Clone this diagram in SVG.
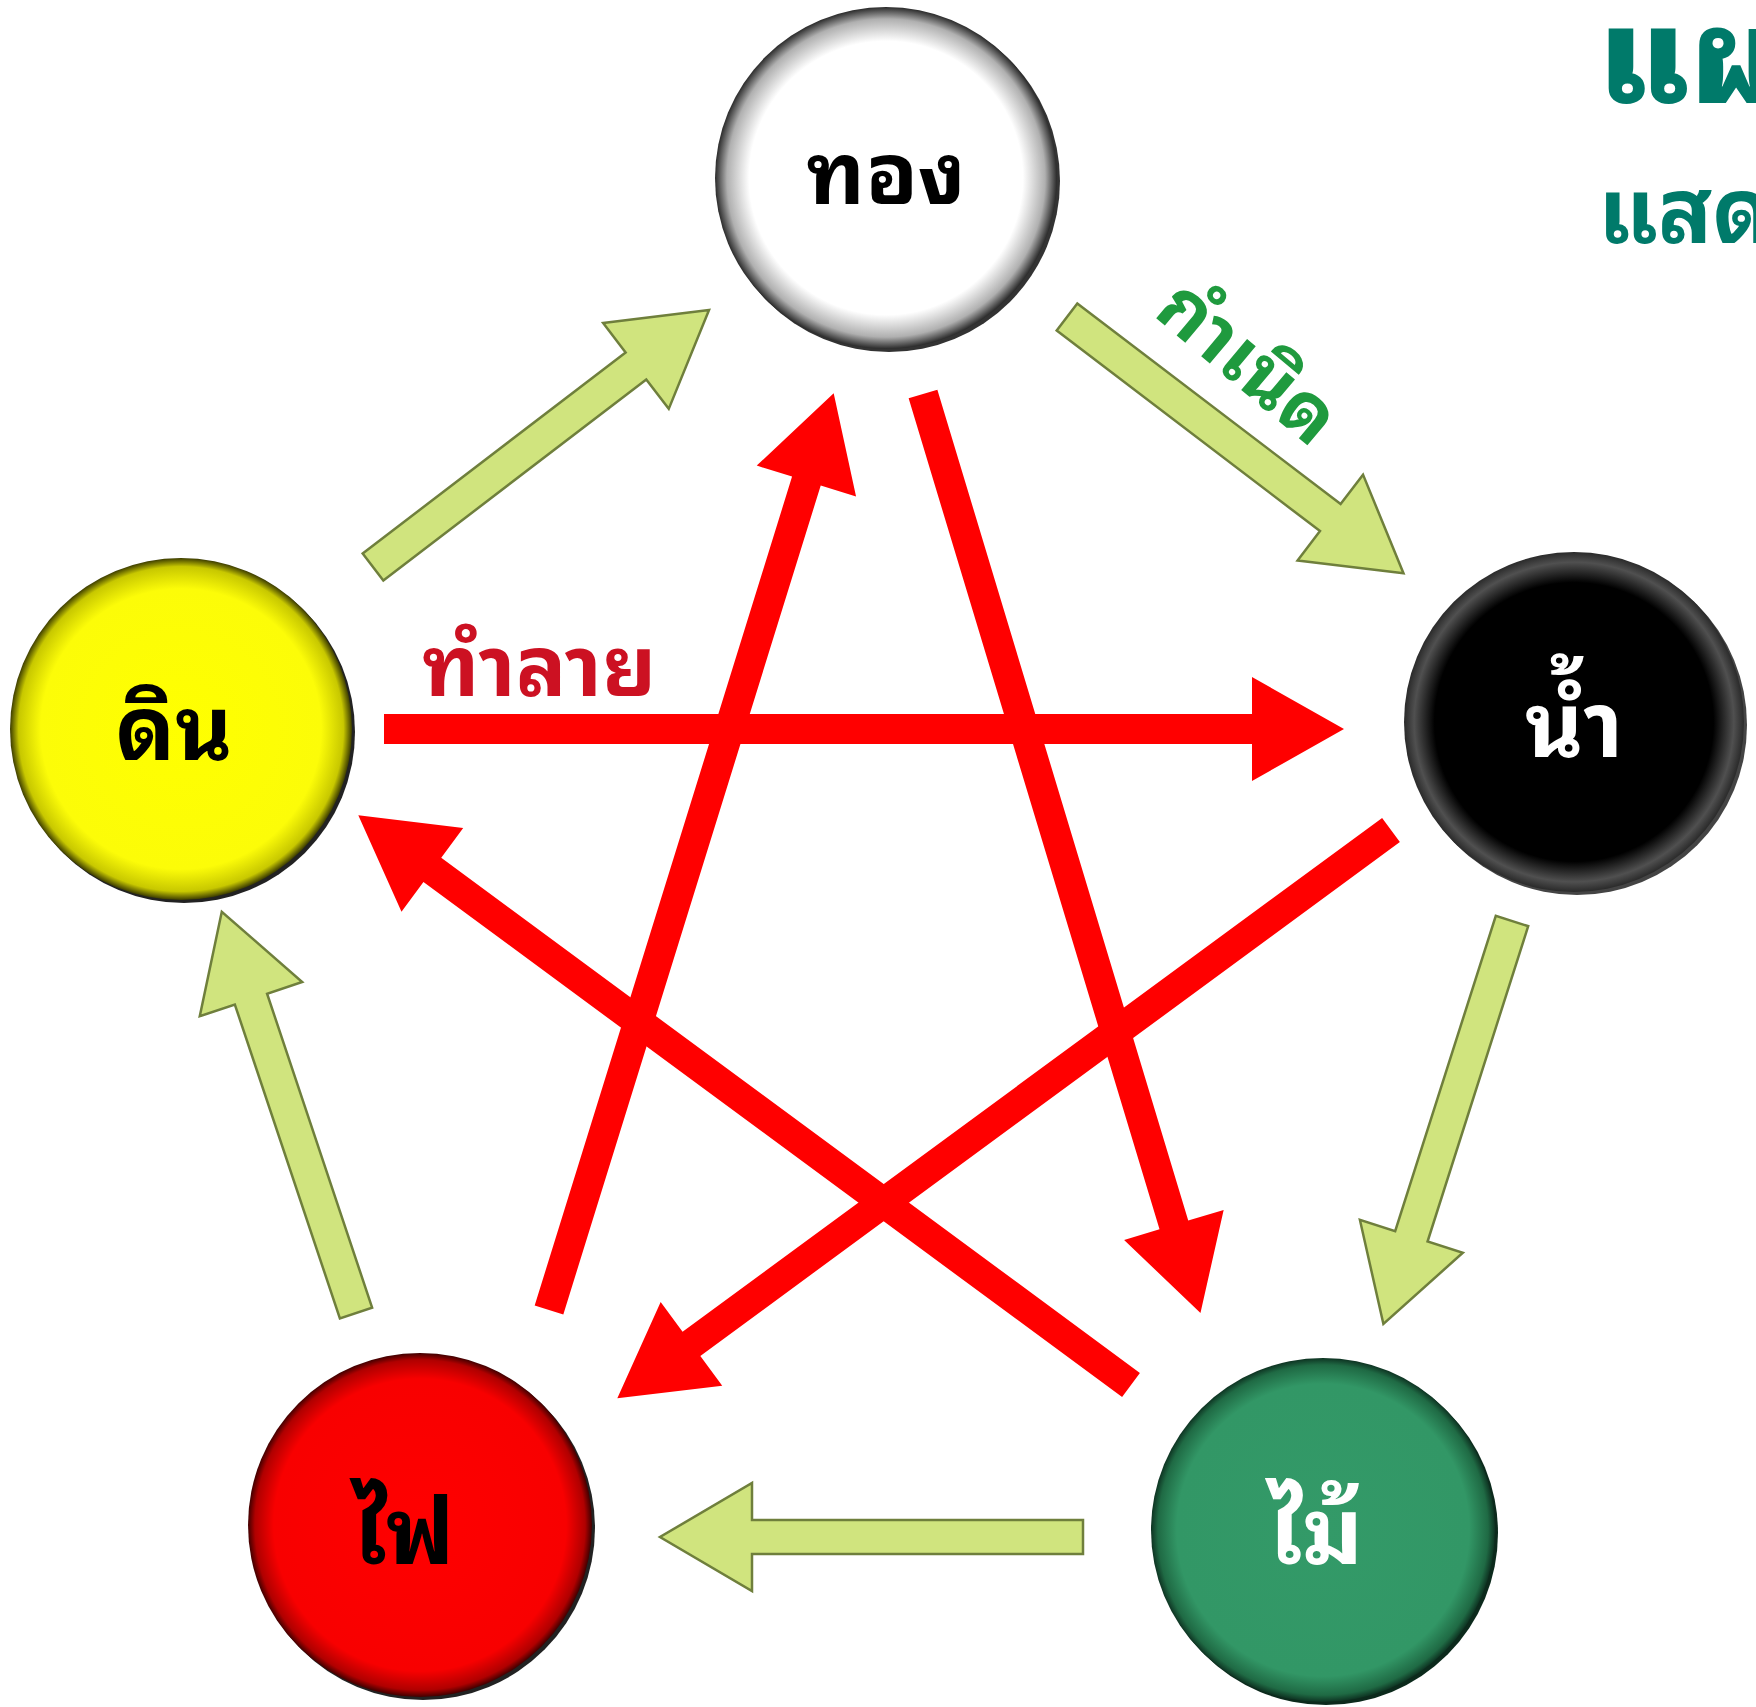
<svg xmlns="http://www.w3.org/2000/svg" width="1756" height="1707" viewBox="0 0 1756 1707">
<style>
.thai{font-family:"Noto Sans Thai Looped","Noto Sans Thai","Noto Sans","DejaVu Sans",sans-serif;font-weight:bold}
.lbl{text-anchor:middle}
.garr{fill:#d0e47e;stroke:#6f7f3c;stroke-width:2.5;stroke-linejoin:miter}
.rarr{fill:#ff0000}
</style>
<defs>
<radialGradient id="gWhite"><stop offset="0" stop-color="#ffffff"/><stop offset="0.8" stop-color="#ffffff"/><stop offset="0.93" stop-color="#b0b0b0"/><stop offset="1" stop-color="#2a2a2a"/></radialGradient>
<radialGradient id="gBlack"><stop offset="0" stop-color="#000000"/><stop offset="0.82" stop-color="#000000"/><stop offset="0.94" stop-color="#505050"/><stop offset="1" stop-color="#2a2a2a"/></radialGradient>
<radialGradient id="gYellow"><stop offset="0" stop-color="#ffff00"/><stop offset="0.82" stop-color="#fcfc08"/><stop offset="0.95" stop-color="#c8c800"/><stop offset="1" stop-color="#3c3c00"/></radialGradient>
<radialGradient id="gRed"><stop offset="0" stop-color="#ff0000"/><stop offset="0.85" stop-color="#f80000"/><stop offset="0.96" stop-color="#b00000"/><stop offset="1" stop-color="#400000"/></radialGradient>
<radialGradient id="gGreen"><stop offset="0" stop-color="#339a68"/><stop offset="0.85" stop-color="#329766"/><stop offset="0.96" stop-color="#1f6a44"/><stop offset="1" stop-color="#0e3322"/></radialGradient>
<polygon id="ga" points="0,-17 331,-17 331,-54 423,0 331,54 331,17 0,17"/>
<polygon id="ra" points="0,-15 868,-15 868,-52 960,0 868,52 868,15 0,15"/>
</defs>
<rect width="1756" height="1707" fill="#ffffff"/>

<g id="title" class="thai" fill="#007a6a">
<text x="1598" y="103" font-size="132" font-weight="900">แผ</text>
<text x="1598" y="243" font-size="90">แสด</text>
</g>

<g id="connectors">
<g class="garr">
<use href="#ga" transform="translate(373,567) rotate(-37.4)"/>
<use href="#ga" transform="translate(1067,317) rotate(37.3)"/>
<use href="#ga" transform="translate(1512,921) rotate(107.7)"/>
<use href="#ga" transform="translate(1083,1537) rotate(180)"/>
<use href="#ga" transform="translate(356,1313) rotate(-108.5)"/>
</g>
<g class="rarr">
<use href="#ra" transform="translate(384,729) rotate(0)"/>
<use href="#ra" transform="translate(923,394) rotate(73.2)"/>
<use href="#ra" transform="translate(1391,830) rotate(143.7)"/>
<use href="#ra" transform="translate(1131,1385) rotate(216.4)"/>
<use href="#ra" transform="translate(549,1310) rotate(-72.75)"/>
</g>
<text class="thai" x="422" y="696" font-size="84" fill="#cc1122">ทำลาย</text>
<text class="thai lbl" x="0" y="0" font-size="76" font-weight="600" fill="#1f9a3e" transform="translate(1232,382) rotate(40)">กำเนิด</text>
</g>

<g id="node-thong">
<circle cx="889" cy="181" r="171" fill="#333"/>
<circle cx="886" cy="178" r="171" fill="url(#gWhite)"/>
<text class="thai lbl" x="886" y="204" font-size="86" fill="#000">ทอง</text>
</g>
<g id="node-nam">
<circle cx="1577" cy="725" r="170" fill="#444"/>
<circle cx="1574" cy="722" r="170" fill="url(#gBlack)"/>
<text class="thai lbl" x="1574" y="757" font-size="90" fill="#fff">น้ำ</text>
</g>
<g id="node-din">
<circle cx="184" cy="732" r="171" fill="#222"/>
<circle cx="181" cy="729" r="171" fill="url(#gYellow)"/>
<text class="thai lbl" x="174" y="760" font-size="88" fill="#000">ดิน</text>
</g>
<g id="node-fai">
<circle cx="423" cy="1528" r="172" fill="#222"/>
<circle cx="420" cy="1525" r="172" fill="url(#gRed)"/>
<text class="thai lbl" x="404" y="1564" font-size="92" fill="#000">ไฟ</text>
</g>
<g id="node-mai">
<circle cx="1326" cy="1533" r="172" fill="#0c2a1c"/>
<circle cx="1323" cy="1530" r="172" fill="url(#gGreen)"/>
<text class="thai lbl" x="1316" y="1564" font-size="92" fill="#fff">ไม้</text>
</g>
</svg>
